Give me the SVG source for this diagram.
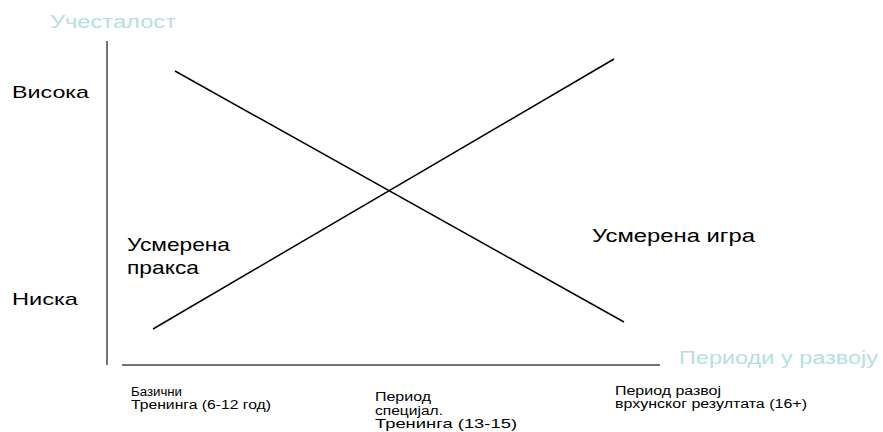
<svg xmlns="http://www.w3.org/2000/svg" width="883" height="432" viewBox="0 0 883 432">
<style>
text{font-family:"Liberation Sans",Arial,sans-serif;fill:#000}
.ax{fill:#b5dfe2}
.ln{stroke:#000;stroke-width:1.5;fill:none}
.axis{stroke:#444;stroke-width:1.5;fill:none}
.s{font-size:12px}
</style>
<rect width="883" height="432" fill="#fff"/>
<g id="connectors">
<line class="axis" x1="107" y1="41" x2="107" y2="365"/>
<line class="axis" x1="122" y1="365" x2="660" y2="365"/>
<line class="ln" x1="175" y1="71" x2="624" y2="322"/>
<line class="ln" x1="153" y1="329" x2="614" y2="59"/>
</g>
<g id="y-title"><text class="ax" x="50" y="28" font-size="18" textLength="126" lengthAdjust="spacingAndGlyphs">Учесталост</text></g>
<g id="high"><text x="12" y="98" font-size="17" textLength="77" lengthAdjust="spacingAndGlyphs">Висока</text></g>
<g id="low"><text x="12" y="305" font-size="17" textLength="66" lengthAdjust="spacingAndGlyphs">Ниска</text></g>
<g id="practice"><text x="127" y="251" font-size="19" textLength="103" lengthAdjust="spacingAndGlyphs">Усмерена</text><text x="127" y="274" font-size="19" textLength="72" lengthAdjust="spacingAndGlyphs">пракса</text></g>
<g id="play"><text x="592" y="242" font-size="18" textLength="163" lengthAdjust="spacingAndGlyphs">Усмерена игра</text></g>
<g id="x-title"><text class="ax" x="679" y="364" font-size="18.5" textLength="199" lengthAdjust="spacingAndGlyphs">Периоди у развоју</text></g>
<g id="p1"><text class="s" x="131" y="396" textLength="51" lengthAdjust="spacingAndGlyphs">Базични</text><text class="s" x="131" y="409" textLength="140" lengthAdjust="spacingAndGlyphs">Тренинга (6-12 год)</text></g>
<g id="p2"><text class="s" x="375" y="401" textLength="56" lengthAdjust="spacingAndGlyphs">Период</text><text class="s" x="375" y="415" textLength="68" lengthAdjust="spacingAndGlyphs">специјал.</text><text class="s" x="375" y="428" textLength="142" lengthAdjust="spacingAndGlyphs">Тренинга (13-15)</text></g>
<g id="p3"><text class="s" x="615" y="395" textLength="106" lengthAdjust="spacingAndGlyphs">Период развој</text><text class="s" x="615" y="408" textLength="192" lengthAdjust="spacingAndGlyphs">врхунског резултата (16+)</text></g>
</svg>
